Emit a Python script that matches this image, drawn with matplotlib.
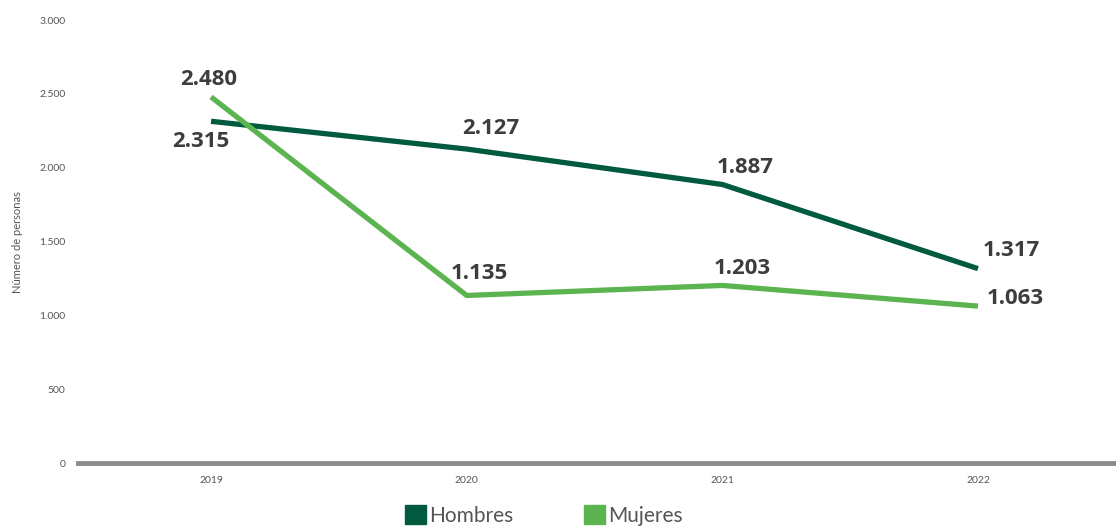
import matplotlib.pyplot as plt
from matplotlib.patches import Patch

# datos
years = ["2019", "2020", "2021", "2022"]
hombres = [2315, 2127, 1887, 1317]
mujeres = [2480, 1135, 1203, 1063]
y_ticks = [0, 500, 1000, 1500, 2000, 2500, 3000]
y_tick_labels = ["0", "500", "1.000", "1.500", "2.000", "2.500", "3.000"]

c_h = "#005a3f"
c_m = "#5bb44f"
c_txt = "#3d3d3d"

plt.rcParams['font.family'] = ['Lato', 'DejaVu Sans']

fig = plt.figure(figsize=(11.16, 5.31), dpi=100)
ax = fig.add_axes([0.07, 0.128, 0.93, 0.834])

x = list(range(len(years)))
ax.plot(x, hombres, color=c_h, lw=3.8, solid_capstyle="butt")
ax.plot(x, mujeres, color=c_m, lw=3.8, solid_capstyle="butt")

def fmt(v):
    return f"{v:,}".replace(",", ".")

# desplazamientos de etiquetas en pixeles
off_h = [(-10, -10), (24, 10), (23, 6), (33, 8)]
off_m = [(-2, 7), (13, 11), (20, 6), (37, -3)]
lbl_font = ['Open Sans', 'DejaVu Sans']
for i, v in enumerate(hombres):
    ax.annotate(fmt(v), (x[i], v), xytext=off_h[i], textcoords="offset pixels",
                ha="center", va="bottom" if off_h[i][1] > 0 else "top",
                fontsize=16, fontweight="bold", color=c_txt, family=lbl_font)
for i, v in enumerate(mujeres):
    ax.annotate(fmt(v), (x[i], v), xytext=off_m[i], textcoords="offset pixels",
                ha="center", va="bottom", fontsize=16, fontweight="bold",
                color=c_txt, family=lbl_font)

ax.set_xlim(-0.52, 3.54)
ax.set_ylim(0, 3000)
ax.set_xticks(x)
ax.set_xticklabels(years, fontsize=7.5, color="#555555")
ax.set_yticks(y_ticks)
ax.set_yticklabels(y_tick_labels, fontsize=7.5, color="#555555")
ax.tick_params(length=0, axis="y", pad=9)
ax.tick_params(length=0, axis="x", pad=9)
for s in ["top", "right", "left"]:
    ax.spines[s].set_visible(False)
ax.spines["bottom"].set_color("#8c8c8c")
ax.spines["bottom"].set_linewidth(3.5)
ax.set_ylabel("Número de personas", fontsize=8, color="#555555", labelpad=12)

handles = [Patch(color=c_h, label="Hombres"), Patch(color=c_m, label="Mujeres")]
fig.legend(handles=handles, loc="lower center", bbox_to_anchor=(0.487, -0.025), ncol=2,
           frameon=False, fontsize=15, handlelength=1.0, handleheight=1.0,
           handletextpad=0.15, columnspacing=3.4, labelcolor="#555555")

fig.savefig("out.png", dpi=100)
